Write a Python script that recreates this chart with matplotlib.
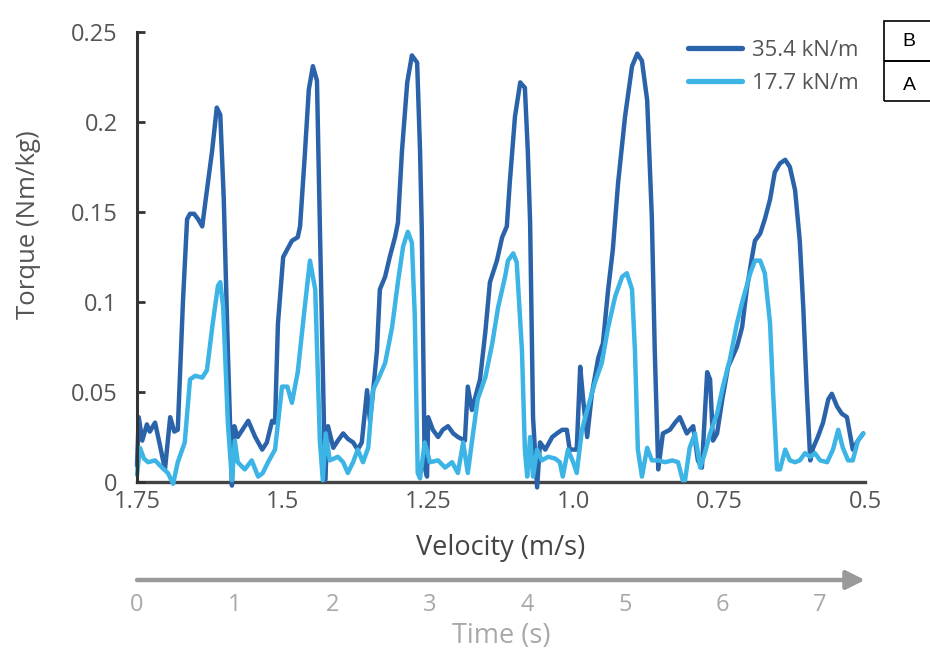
import matplotlib
matplotlib.use("Agg")
import matplotlib.pyplot as plt
from matplotlib.patches import Rectangle

plt.rcParams['font.family'] = ['Open Sans', 'DejaVu Sans']

# 35.4 kN/m trace (velocity m/s, torque Nm/kg)
stiff_v = [1.750, 1.747, 1.741, 1.733, 1.728, 1.719, 1.711, 1.702, 1.693, 1.686, 1.680,
           1.671, 1.664, 1.659, 1.652, 1.645, 1.638, 1.632, 1.621, 1.613, 1.607, 1.601,
           1.594, 1.587, 1.583, 1.577, 1.559, 1.547, 1.535, 1.527, 1.518, 1.513, 1.508,
           1.499, 1.484, 1.474, 1.470, 1.462, 1.455, 1.448, 1.441, 1.436, 1.427, 1.422,
           1.413, 1.405, 1.396, 1.388, 1.379, 1.371, 1.364, 1.355, 1.350, 1.345, 1.338,
           1.333, 1.324, 1.316, 1.307, 1.302, 1.295, 1.286, 1.278, 1.269, 1.264, 1.261,
           1.256, 1.252, 1.250, 1.242, 1.233, 1.225, 1.216, 1.207, 1.199, 1.187, 1.182,
           1.175, 1.170, 1.161, 1.152, 1.144, 1.132, 1.123, 1.115, 1.110, 1.101, 1.092,
           1.084, 1.079, 1.075, 1.070, 1.063, 1.058, 1.049, 1.037, 1.029, 1.020, 1.012,
           1.007, 0.995, 0.989, 0.984, 0.977, 0.969, 0.958, 0.950, 0.941, 0.933, 0.924,
           0.912, 0.900, 0.891, 0.883, 0.874, 0.866, 0.861, 0.855, 0.847, 0.835, 0.826,
           0.818, 0.806, 0.795, 0.787, 0.780, 0.771, 0.766, 0.761, 0.754, 0.745, 0.735,
           0.720, 0.711, 0.703, 0.694, 0.689, 0.680, 0.672, 0.663, 0.655, 0.646, 0.637,
           0.629, 0.620, 0.612, 0.606, 0.600, 0.594, 0.589, 0.581, 0.572, 0.563, 0.557,
           0.548, 0.540, 0.531, 0.526, 0.521, 0.512, 0.503]
stiff_t = [0.009, 0.036, 0.023, 0.032, 0.028, 0.033, 0.021, 0.007, 0.036, 0.028, 0.029,
           0.101, 0.146, 0.149, 0.149, 0.146, 0.142, 0.157, 0.184, 0.208, 0.204, 0.157,
           0.073, -0.002, 0.031, 0.025, 0.034, 0.025, 0.018, 0.022, 0.034, 0.033, 0.088,
           0.125, 0.134, 0.136, 0.142, 0.181, 0.218, 0.231, 0.223, 0.142, 0.001, 0.031,
           0.019, 0.023, 0.027, 0.024, 0.022, 0.018, 0.022, 0.051, 0.034, 0.049, 0.073,
           0.107, 0.114, 0.125, 0.136, 0.144, 0.184, 0.222, 0.237, 0.233, 0.184, 0.140,
           0.008, 0.003, 0.036, 0.029, 0.025, 0.029, 0.031, 0.027, 0.025, 0.023, 0.053,
           0.040, 0.046, 0.057, 0.083, 0.111, 0.123, 0.136, 0.142, 0.166, 0.203, 0.222,
           0.219, 0.184, 0.144, 0.036, -0.003, 0.022, 0.018, 0.025, 0.027, 0.029, 0.029,
           0.018, 0.018, 0.064, 0.046, 0.025, 0.049, 0.069, 0.077, 0.107, 0.129, 0.166,
           0.203, 0.231, 0.238, 0.234, 0.212, 0.147, 0.073, 0.007, 0.027, 0.029, 0.033,
           0.036, 0.027, 0.031, 0.012, 0.008, 0.061, 0.057, 0.023, 0.027, 0.046, 0.064,
           0.075, 0.086, 0.107, 0.125, 0.134, 0.138, 0.146, 0.157, 0.172, 0.177, 0.179,
           0.175, 0.162, 0.134, 0.097, 0.051, 0.012, 0.019, 0.025, 0.033, 0.046, 0.049,
           0.042, 0.038, 0.036, 0.027, 0.018, 0.023, 0.027]

# 17.7 kN/m trace
soft_v = [1.750, 1.745, 1.738, 1.731, 1.719, 1.707, 1.697, 1.688, 1.680, 1.668, 1.659,
          1.650, 1.638, 1.630, 1.620, 1.611, 1.607, 1.602, 1.594, 1.587, 1.582, 1.577,
          1.565, 1.553, 1.542, 1.534, 1.525, 1.513, 1.501, 1.492, 1.484, 1.474, 1.462,
          1.453, 1.444, 1.436, 1.431, 1.426, 1.419, 1.405, 1.396, 1.388, 1.379, 1.371,
          1.362, 1.353, 1.345, 1.336, 1.324, 1.312, 1.302, 1.293, 1.285, 1.278, 1.273,
          1.268, 1.264, 1.256, 1.247, 1.233, 1.221, 1.209, 1.199, 1.190, 1.182, 1.173,
          1.165, 1.152, 1.140, 1.130, 1.118, 1.113, 1.104, 1.098, 1.089, 1.084, 1.080,
          1.075, 1.070, 1.063, 1.055, 1.044, 1.032, 1.024, 1.019, 1.010, 1.001, 0.995,
          0.986, 0.977, 0.964, 0.952, 0.941, 0.929, 0.917, 0.909, 0.900, 0.895, 0.890,
          0.883, 0.874, 0.866, 0.855, 0.843, 0.831, 0.821, 0.813, 0.809, 0.801, 0.792,
          0.783, 0.775, 0.766, 0.754, 0.744, 0.732, 0.720, 0.710, 0.697, 0.689, 0.680,
          0.672, 0.663, 0.658, 0.651, 0.646, 0.637, 0.629, 0.620, 0.612, 0.603, 0.594,
          0.586, 0.577, 0.565, 0.555, 0.546, 0.538, 0.529, 0.521, 0.512, 0.503]
soft_t = [0.004, 0.019, 0.013, 0.011, 0.012, 0.008, 0.005, -0.001, 0.011, 0.022, 0.057,
          0.059, 0.058, 0.062, 0.088, 0.109, 0.111, 0.097, 0.033, 0.001, 0.023, 0.011,
          0.007, 0.012, 0.003, 0.005, 0.011, 0.018, 0.053, 0.053, 0.044, 0.061, 0.097,
          0.123, 0.107, 0.023, 0.001, 0.027, 0.012, 0.014, 0.011, 0.005, 0.011, 0.018,
          0.011, 0.019, 0.051, 0.057, 0.066, 0.086, 0.111, 0.131, 0.139, 0.133, 0.092,
          0.005, 0.002, 0.022, 0.011, 0.012, 0.008, 0.011, 0.005, 0.022, 0.005, 0.027,
          0.046, 0.058, 0.077, 0.097, 0.114, 0.123, 0.127, 0.122, 0.073, 0.018, 0.003,
          0.025, 0.003, 0.018, 0.012, 0.014, 0.013, 0.011, 0.003, 0.018, 0.011, 0.005,
          0.029, 0.040, 0.055, 0.066, 0.086, 0.103, 0.114, 0.116, 0.107, 0.073, 0.018,
          0.003, 0.019, 0.012, 0.012, 0.011, 0.012, 0.011, 0.001, 0.001, 0.019, 0.027,
          0.008, 0.016, 0.027, 0.038, 0.053, 0.068, 0.088, 0.101, 0.116, 0.123, 0.123,
          0.116, 0.088, 0.051, 0.007, 0.007, 0.018, 0.012, 0.011, 0.012, 0.016, 0.014,
          0.016, 0.012, 0.011, 0.018, 0.029, 0.019, 0.012, 0.012, 0.023, 0.027]

y_ticks = [0, 0.05, 0.1, 0.15, 0.2, 0.25]
y_labels = ['0', '0.05', '0.1', '0.15', '0.2', '0.25']
v_ticks = [1.75, 1.5, 1.25, 1.0, 0.75, 0.5]
v_labels = ['1.75', '1.5', '1.25', '1.0', '0.75', '0.5']
time_ticks = [0, 1, 2, 3, 4, 5, 6, 7]
time_end = 7.46  # where the arrow stops, lines up with velocity 0.5

dark = '#2b63ab'
light = '#3cb4e5'
txt = '#555555'

fig = plt.figure(figsize=(9.3, 6.52), dpi=100)
ax = fig.add_axes([137 / 930, 1 - 482 / 652, 728 / 930, 450 / 652])

ax.plot(stiff_v, stiff_t, color=dark, lw=3.2, label='35.4 kN/m', clip_on=False,
        solid_joinstyle='round', solid_capstyle='round')
ax.plot(soft_v, soft_t, color=light, lw=3.2, label='17.7 kN/m', clip_on=False,
        solid_joinstyle='round', solid_capstyle='round')

ax.set_xlim(1.75, 0.5)
ax.set_ylim(0, 0.25)
for s in ['top', 'right']:
    ax.spines[s].set_visible(False)
ax.spines['left'].set_color('#333333')
ax.spines['left'].set_linewidth(2.2)
ax.spines['bottom'].set_color('#444444')
ax.spines['bottom'].set_linewidth(2.4)
ax.spines['bottom'].set_zorder(1)

ax.set_yticks(y_ticks)
ax.set_yticklabels(y_labels)
ax.set_xticks(v_ticks)
ax.set_xticklabels(v_labels)
ax.tick_params(axis='y', direction='in', length=6, width=2, color='#333333',
               labelsize=17, labelcolor=txt, pad=14)
ax.tick_params(axis='x', length=0, labelsize=17, labelcolor=txt, pad=6)

ax.set_ylabel('Torque (Nm/kg)', fontsize=18.5, color=txt)
ax.yaxis.label.set_va('center')
ax.yaxis.set_label_coords(-0.149, 0.571)
ax.set_xlabel('Velocity (m/s)', fontsize=19.5, color='#444444')
ax.xaxis.label.set_va('center')
ax.xaxis.set_label_coords(0.5, -0.147)

leg = ax.legend(loc='upper right', bbox_to_anchor=(1.003, 1.003), borderaxespad=0,
                frameon=False, fontsize=16, handlelength=2.4, handletextpad=0.45,
                labelspacing=0.55)
for t in leg.get_texts():
    t.set_color(txt)
for h in leg.get_lines():
    h.set_linewidth(3.8)

# time axis with arrow below
tax = fig.add_axes([137 / 930, 1 - 590 / 652, 728 / 930, 20 / 652])
tax.set_xlim(0, time_end)
tax.set_ylim(-1, 1)
tax.annotate('', xy=(time_end, 0), xytext=(0, 0),
             arrowprops=dict(arrowstyle='-|>', color='#9a9a9a', lw=3.2, mutation_scale=28,
                             shrinkA=0, shrinkB=0))
for s in tax.spines.values():
    s.set_visible(False)
tax.set_yticks([])
tax.set_xticks(time_ticks)
tax.tick_params(axis='x', length=0, labelsize=17, labelcolor='#a8a8a8', pad=2)
tax.set_xlabel('Time (s)', fontsize=19.5, color='#a8a8a8')
tax.xaxis.label.set_va('center')
tax.xaxis.set_label_coords(0.5, -2.3)

# small B / A panel box at the right edge
bx, bw = 884 / 930, 60 / 930
fig.add_artist(Rectangle((bx, 1 - 101 / 652), bw, 40 / 652, transform=fig.transFigure,
                         fill=False, ec='black', lw=1.2))
fig.add_artist(Rectangle((bx, 1 - 61 / 652), bw, 40 / 652, transform=fig.transFigure,
                         fill=False, ec='black', lw=1.2))
fig.text(909 / 930, 1 - 41 / 652, 'B', ha='center', va='center', fontsize=14,
         family='Liberation Sans', color='black')
fig.text(909 / 930, 1 - 86 / 652, 'A', ha='center', va='center', fontsize=14,
         family='Liberation Sans', color='black')

fig.savefig('out.png', dpi=100)
